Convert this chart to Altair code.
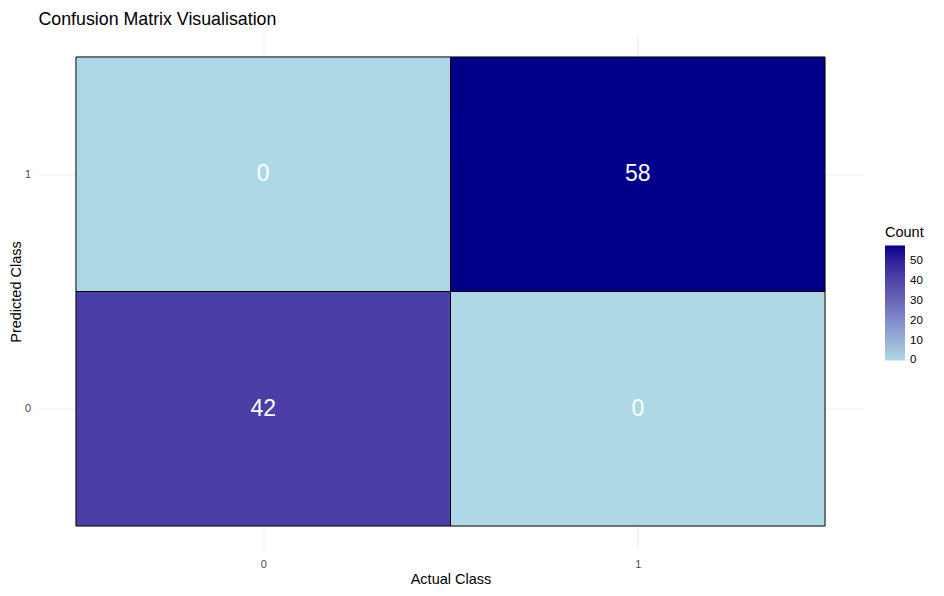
import altair as alt
import pandas as pd

actual = [0, 1, 0, 1]
predicted = [1, 1, 0, 0]
counts = [0, 58, 42, 0]
legend_ticks = [0.1, 10, 20, 30, 40, 50]

df = pd.DataFrame({"Actual": actual, "Predicted": predicted, "Count": counts})

FONT = "Liberation Sans"

base = alt.Chart(df).transform_calculate(
    x0="datum.Actual - 0.5", x1="datum.Actual + 0.5",
    y0="datum.Predicted - 0.5", y1="datum.Predicted + 0.5",
)

xscale = alt.Scale(domain=[-0.6, 1.6], nice=False, zero=False)
yscale = alt.Scale(domain=[-0.6, 1.6], nice=False, zero=False)

xaxis = alt.Axis(values=[0, 1], title="Actual Class", grid=True, gridColor="#EBEBEB",
                 domain=False, ticks=False, labelColor="#4D4D4D", labelFontSize=11,
                 labelPadding=9, titleFontSize=14.5, titleFont=FONT, labelFont=FONT,
                 titleColor="black", titleFontWeight="normal", titlePadding=3, format="d")
yaxis = alt.Axis(values=[0, 1], title="Predicted Class", grid=True, gridColor="#EBEBEB",
                 domain=False, ticks=False, labelColor="#4D4D4D", labelFontSize=11,
                 labelPadding=8, titleFontSize=14.5, titleFont=FONT, labelFont=FONT,
                 titleColor="black", titleFontWeight="normal", titlePadding=1, format="d")

rect = base.mark_rect(stroke="black", strokeWidth=1).encode(
    x=alt.X("x0:Q", scale=xscale, axis=xaxis),
    x2="x1:Q",
    y=alt.Y("y0:Q", scale=yscale, axis=yaxis),
    y2="y1:Q",
    color=alt.Color("Count:Q",
                    scale=alt.Scale(domain=[0, 58], range=["#ADD8E6", "#00008B"], interpolate="lab"),
                    legend=alt.Legend(title="Count", orient="none", legendX=846.5, legendY=192.5,
                                      gradientLength=115, gradientThickness=20,
                                      values=legend_ticks, labelExpr="format(datum.value, '.0f')",
                                      labelFontSize=11.5, labelOffset=5,
                                      labelFont=FONT, titleFont=FONT, titleFontSize=14.5,
                                      titleFontWeight="normal", titleColor="black",
                                      labelColor="black", gradientStrokeWidth=0)),
)

text = base.mark_text(color="white", fontSize=23, font=FONT).encode(
    x=alt.X("Actual:Q", scale=xscale),
    y=alt.Y("Predicted:Q", scale=yscale),
    text="Count:Q",
)

chart = (rect + text).properties(
    width=824, height=516,
    background="white",
    title=alt.TitleParams("Confusion Matrix Visualisation", anchor="start", frame="group",
                          fontSize=17.8, font=FONT, fontWeight="normal", color="black", offset=5),
    padding={"left": 30.5, "top": 25.5, "right": 65, "bottom": 38.5},
    autosize=alt.AutoSizeParams(type="none"),
).configure_view(strokeWidth=0, stroke="transparent")

chart.save("out.html", embed_options={"renderer": "svg", "actions": False})
